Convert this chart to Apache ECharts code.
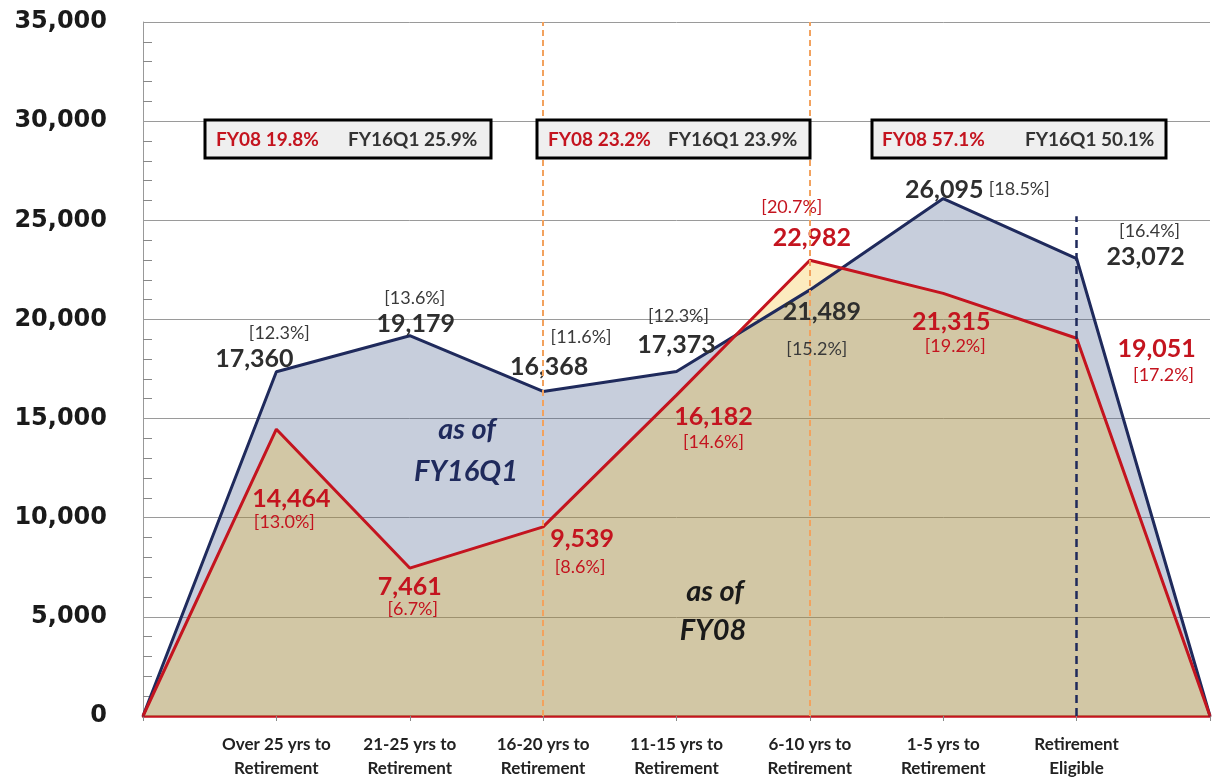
<!DOCTYPE html>
<html>
<head>
<meta charset="utf-8">
<script src="https://cdn.jsdelivr.net/npm/echarts@6/dist/echarts.min.js"></script>
<style>
  html, body { margin: 0; padding: 0; background: #fff; }
  #chart { width: 1219px; height: 781px; }
</style>
</head>
<body>
<div id="chart"></div>
<script>
// categories (blank ends pin the areas to zero)
var categories = ['', 'Over 25 yrs to\nRetirement', '21-25 yrs to\nRetirement', '16-20 yrs to\nRetirement',
  '11-15 yrs to\nRetirement', '6-10 yrs to\nRetirement', '1-5 yrs to\nRetirement', 'Retirement\nEligible', ' '];

// headcount
var fy16q1 = [0, 17360, 19179, 16368, 17373, 21489, 26095, 23072, 0];
var fy08 = [0, 14464, 7461, 9539, 16182, 22982, 21315, 19051, 0];

// share of workforce
var fy16q1Pct = [null, '12.3', '13.6', '11.6', '12.3', '15.2', '18.5', '16.4', null];
var fy08Pct = [null, '13.0', '6.7', '8.6', '14.6', '20.7', '19.2', '17.2', null];

// group totals shown in the boxes
var bandFy08 = ['19.8%', '23.2%', '57.1%'];
var bandFy16 = ['25.9%', '23.9%', '50.1%'];

var yTicks = [0, 5000, 10000, 15000, 20000, 25000, 30000, 35000];

// label offsets (px from the point)
var fy16ValOff = [null, [-22, -13], [6, -12], [6, -25], [0, -27], [12, 22], [1, -9], [69, -2], null];
var fy16PctOff = [null, [3, -39], [5, -38], [38, -54], [2, -55], [7, 59], [76, -9], [73, -27], null];
var fy08ValOff = [null, [15, 70], [0, 19], [39, 12], [37, 22], [2, -22], [8, 29], [80, 11], null];
var fy08PctOff = [null, [8, 93], [3, 41], [37, 40], [37, 47], [-18, -53], [12, 53], [87, 37], null];

var NAVY = '#1f2a5c';
var RED = '#c4141f';
var FONT = 'Lato, "Open Sans", sans-serif';

function fmt(v) { return v.toLocaleString('en-US'); }

function items(vals, offs) {
  return vals.map(function (v, i) {
    if (!offs[i]) return { value: v, label: { show: false } };
    return { value: v, label: { offset: offs[i] } };
  });
}

function labelSeries(name, vals, pcts, offs, color) {
  return {
    name: name,
    type: 'line',
    data: items(vals, offs),
    symbol: 'circle',
    symbolSize: 1,
    itemStyle: { color: 'rgba(0,0,0,0)' },
    lineStyle: { opacity: 0 },
    silent: true,
    z: 5,
    label: {
      show: true, position: 'inside', color: color,
      fontFamily: FONT, fontSize: 18,
      formatter: function (p) { return '[' + pcts[p.dataIndex] + '%]'; }
    }
  };
}

var chart = echarts.init(document.getElementById('chart'));

var boxes = [
  { x: 205, w: 286, redX: 216, darkX: 348 },
  { x: 537, w: 273, redX: 548, darkX: 668 },
  { x: 872, w: 294, redX: 882, darkX: 1025 }
];
var graphics = [];
boxes.forEach(function (b, i) {
  graphics.push({
    type: 'rect', z: 20,
    shape: { x: b.x, y: 120, width: b.w, height: 38 },
    style: { fill: '#efefef', stroke: '#000', lineWidth: 3 }
  });
  graphics.push({
    type: 'text', z: 21,
    style: { x: b.redX, y: 140, text: 'FY08 ' + bandFy08[i], fill: RED, font: 'bold 19px ' + FONT, textVerticalAlign: 'middle' }
  });
  graphics.push({
    type: 'text', z: 21,
    style: { x: b.darkX, y: 140, text: 'FY16Q1 ' + bandFy16[i], fill: '#333', font: 'bold 19px ' + FONT, textVerticalAlign: 'middle' }
  });
});
[['as of', 467, 430, NAVY], ['FY16Q1', 466, 472, NAVY], ['as of', 715, 592, '#1a1a1a'], ['FY08', 713, 631, '#1a1a1a']]
  .forEach(function (t) {
    graphics.push({
      type: 'text', z: 21,
      style: { x: t[1], y: t[2], text: t[0], fill: t[3], font: 'italic bold 29px ' + FONT, textAlign: 'center', textVerticalAlign: 'middle' }
    });
  });

chart.setOption({
  animation: false,
  grid: { left: 143, right: 9, top: 22, bottom: 64 },
  xAxis: {
    type: 'category',
    data: categories,
    boundaryGap: false,
    axisLine: { lineStyle: { color: RED, width: 2.5 } },
    axisTick: { show: true, length: 5, lineStyle: { color: '#888' } },
    axisLabel: { interval: 0, margin: 17, color: '#222', fontFamily: FONT, fontWeight: 'bold', fontSize: 17, lineHeight: 24 },
    splitLine: { show: false }
  },
  yAxis: {
    type: 'value',
    min: yTicks[0], max: yTicks[yTicks.length - 1], interval: 5000,
    axisLine: { show: true, lineStyle: { color: '#999' } },
    axisTick: { show: false, inside: true, length: 9, lineStyle: { color: '#888' } },
    minorTick: { show: true, splitNumber: 5, length: 9, lineStyle: { color: '#888' } },
    axisLabel: { margin: 36, color: '#1a1a1a', fontFamily: '"DejaVu Sans", sans-serif', fontWeight: 'bold', fontSize: 24, formatter: fmt },
    splitLine: { lineStyle: { color: '#9a9a9a' } }
  },
  graphic: graphics,
  series: [
    {
      name: 'FY16Q1', type: 'line', data: items(fy16q1, fy16ValOff),
      symbol: 'circle', symbolSize: 1, itemStyle: { color: NAVY },
      lineStyle: { color: NAVY, width: 3 },
      areaStyle: { color: 'rgba(68,94,140,0.3)', opacity: 1 },
      label: {
        show: true, position: 'inside', color: '#2e2e2e', fontFamily: FONT, fontWeight: 'bold', fontSize: 25,
        formatter: function (p) { return fmt(p.value); }
      }
    },
    {
      name: 'FY08', type: 'line', data: items(fy08, fy08ValOff),
      symbol: 'circle', symbolSize: 1, itemStyle: { color: RED },
      lineStyle: { color: RED, width: 3 },
      areaStyle: { color: 'rgba(243,175,0,0.25)', opacity: 1 },
      label: {
        show: true, position: 'inside', color: RED, fontFamily: FONT, fontWeight: 'bold', fontSize: 25,
        formatter: function (p) { return fmt(p.value); }
      },
      markLine: {
        silent: true, symbol: 'none', label: { show: false },
        data: [
          { xAxis: categories[3], lineStyle: { color: '#f2a25e', type: [6, 4], width: 2 } },
          { xAxis: categories[5], lineStyle: { color: '#f2a25e', type: [6, 4], width: 2 } },
          [{ coord: [7, 0], lineStyle: { color: NAVY, type: [8, 5], width: 2.5 } }, { coord: [7, 25200] }]
        ]
      }
    },
    labelSeries('FY16Q1 share', fy16q1, fy16q1Pct, fy16PctOff, '#3a3a3a'),
    labelSeries('FY08 share', fy08, fy08Pct, fy08PctOff, RED)
  ]
});
</script>
</body>
</html>
